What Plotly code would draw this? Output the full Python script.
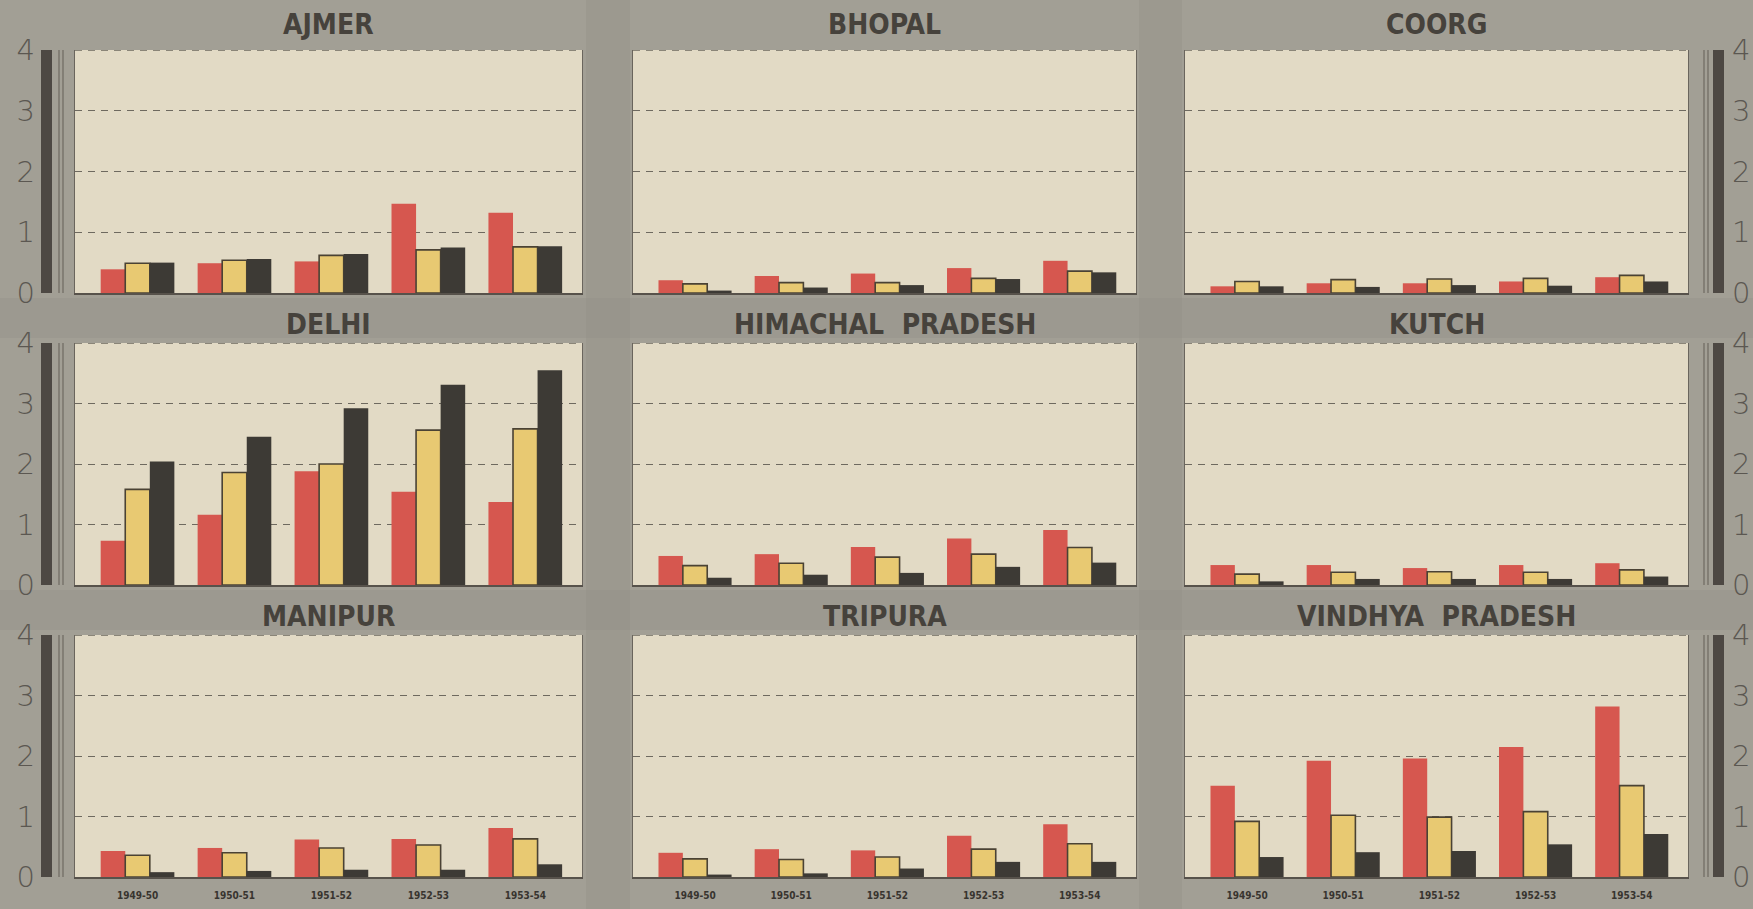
import plotly.graph_objects as go

W, H = 1753, 909

years = ["1949-50", "1950-51", "1951-52", "1952-53", "1953-54"]
states = ["AJMER", "BHOPAL", "COORG",
          "DELHI", "HIMACHAL  PRADESH", "KUTCH",
          "MANIPUR", "TRIPURA", "VINDHYA  PRADESH"]

red_values = [
    [0.39, 0.49, 0.52, 1.47, 1.32],   # Ajmer
    [0.21, 0.28, 0.32, 0.41, 0.53],   # Bhopal
    [0.11, 0.16, 0.16, 0.19, 0.26],   # Coorg
    [0.73, 1.16, 1.88, 1.54, 1.37],   # Delhi
    [0.48, 0.51, 0.63, 0.77, 0.91],   # Himachal Pradesh
    [0.33, 0.33, 0.28, 0.33, 0.36],   # Kutch
    [0.43, 0.48, 0.62, 0.63, 0.81],   # Manipur
    [0.40, 0.46, 0.44, 0.68, 0.87],   # Tripura
    [1.51, 1.92, 1.96, 2.15, 2.82],   # Vindhya Pradesh
]
yellow_values = [
    [0.49, 0.54, 0.62, 0.71, 0.76],
    [0.15, 0.17, 0.17, 0.24, 0.36],
    [0.19, 0.22, 0.23, 0.24, 0.29],
    [1.58, 1.86, 2.00, 2.56, 2.58],
    [0.32, 0.36, 0.46, 0.51, 0.62],
    [0.18, 0.21, 0.22, 0.21, 0.25],
    [0.36, 0.40, 0.48, 0.53, 0.63],
    [0.30, 0.29, 0.33, 0.46, 0.55],
    [0.92, 1.02, 0.99, 1.08, 1.51],
]
dark_values = [
    [0.50, 0.56, 0.64, 0.75, 0.77],
    [0.04, 0.09, 0.13, 0.23, 0.34],
    [0.11, 0.10, 0.13, 0.12, 0.19],
    [2.04, 2.45, 2.92, 3.31, 3.55],
    [0.12, 0.17, 0.20, 0.30, 0.37],
    [0.06, 0.10, 0.10, 0.10, 0.14],
    [0.08, 0.10, 0.12, 0.12, 0.21],
    [0.04, 0.06, 0.14, 0.25, 0.25],
    [0.33, 0.41, 0.43, 0.54, 0.71],
]
y_ticks = [0, 1, 2, 3, 4]
y_tick_text = ["0", "1", "2", "3", "4"]

RED = "#d6574f"
YEL = "#e8c972"
DARK = "#3d3a35"
OUT = "#4a4234"
PANEL = "#e2dac5"
PAPER = "#a29f95"
BAND = "#939087"
AXDARK = "#4d4843"
TITLE_C = "#46423c"
TICK_C = "#5b5751"

col_px = [(75, 582), (633, 1136), (1185, 1688)]
row_px = [(50, 293), (343, 585), (635, 877)]
title_y = [25, 324, 616]


def fx(x):
    return x / W


def fy(y):
    return 1 - y / H


fig = go.Figure()
layout = {}
shapes = []
annotations = []

# background bands between panels
for (a, b) in [(586, 630), (1139, 1182)]:
    shapes.append(dict(type="rect", xref="paper", yref="paper", x0=fx(a), x1=fx(b),
                       y0=0, y1=1, fillcolor=BAND, line=dict(width=0), layer="below", opacity=0.4))
for (a, b) in [(298, 338), (590, 630)]:
    shapes.append(dict(type="rect", xref="paper", yref="paper", x0=0, x1=1,
                       y0=fy(b), y1=fy(a), fillcolor=BAND, line=dict(width=0), layer="below", opacity=0.35))

for i, st in enumerate(states):
    r, c = divmod(i, 3)
    n = i + 1
    sfx = "" if n == 1 else str(n)
    xa, ya = "x" + sfx, "y" + sfx
    for vals, color, lw in [(red_values, RED, 0), (yellow_values, YEL, 1.6), (dark_values, DARK, 0)]:
        fig.add_trace(go.Bar(
            x=years, y=vals[i], xaxis=xa, yaxis=ya, showlegend=False,
            marker=dict(color=color, line=dict(color=OUT, width=lw)),
        ))
    x0, x1 = col_px[c]
    yt, yb = row_px[r]
    layout["xaxis" + sfx] = dict(
        domain=[fx(x0), fx(x1)], anchor=ya, type="category", automargin=False,
        range=[-0.645, 4.585], showgrid=False, zeroline=False,
        showline=True, linecolor="#57524b", linewidth=2.2, mirror=False,
        ticks="", showticklabels=(r == 2), ticklabelstandoff=8,
        tickfont=dict(family="DejaVu Sans Condensed, DejaVu Sans", size=10,
                      color="#38342f", weight="bold"),
        fixedrange=True,
    )
    layout["yaxis" + sfx] = dict(
        domain=[fy(yb), fy(yt)], anchor=xa, range=[0, 4], automargin=False,
        tickvals=y_ticks, ticktext=y_tick_text,
        showgrid=True, gridcolor="#6e695f", gridwidth=1.3, griddash="7px,6px",
        zeroline=False, showline=True, mirror=True, linecolor="#6a655d", linewidth=1.4,
        ticks="", showticklabels=(c != 1), side=("right" if c == 2 else "left"),
        ticklabelstandoff=(37 if c == 2 else 33),
        tickfont=dict(family="DejaVu Sans", size=29, color=TICK_C, weight=300),
        fixedrange=True,
    )
    # dashed top edge at 4
    shapes.append(dict(type="line", xref="paper", yref=ya, x0=fx(x0), x1=fx(x1), y0=4, y1=4,
                       line=dict(color="#6e695f", width=1.6, dash="7px,6px")))
    # vertical scale bars
    if c == 0:
        shapes.append(dict(type="rect", xref="paper", yref=ya, x0=fx(41), x1=fx(52), y0=0, y1=4,
                           fillcolor=AXDARK, line=dict(width=0)))
        for xl in (59, 63):
            shapes.append(dict(type="line", xref="paper", yref=ya, x0=fx(xl), x1=fx(xl), y0=0, y1=4,
                               line=dict(color="#6e6a62", width=1.2)))
    if c == 2:
        shapes.append(dict(type="rect", xref="paper", yref=ya, x0=fx(1713), x1=fx(1724), y0=0, y1=4,
                           fillcolor=AXDARK, line=dict(width=0)))
        for xl in (1704, 1708):
            shapes.append(dict(type="line", xref="paper", yref=ya, x0=fx(xl), x1=fx(xl), y0=0, y1=4,
                               line=dict(color="#6e6a62", width=1.2)))
    annotations.append(dict(
        text=st, x=fx((x0 + x1) / 2), y=fy(title_y[r]), xref="paper", yref="paper",
        xanchor="center", yanchor="middle", showarrow=False,
        font=dict(family="DejaVu Sans Condensed, DejaVu Sans", size=28, color=TITLE_C, weight="bold"),
    ))

fig.update_layout(
    width=W, height=H, margin=dict(l=0, r=0, t=0, b=0, autoexpand=False),
    paper_bgcolor=PAPER, plot_bgcolor=PANEL,
    barmode="group", bargap=0.24, bargroupgap=0.0,
    shapes=shapes, annotations=annotations, showlegend=False,
    **layout,
)

fig.write_html("out.html", post_script="document.body.style.margin='0';",
               config={"displayModeBar": False})
